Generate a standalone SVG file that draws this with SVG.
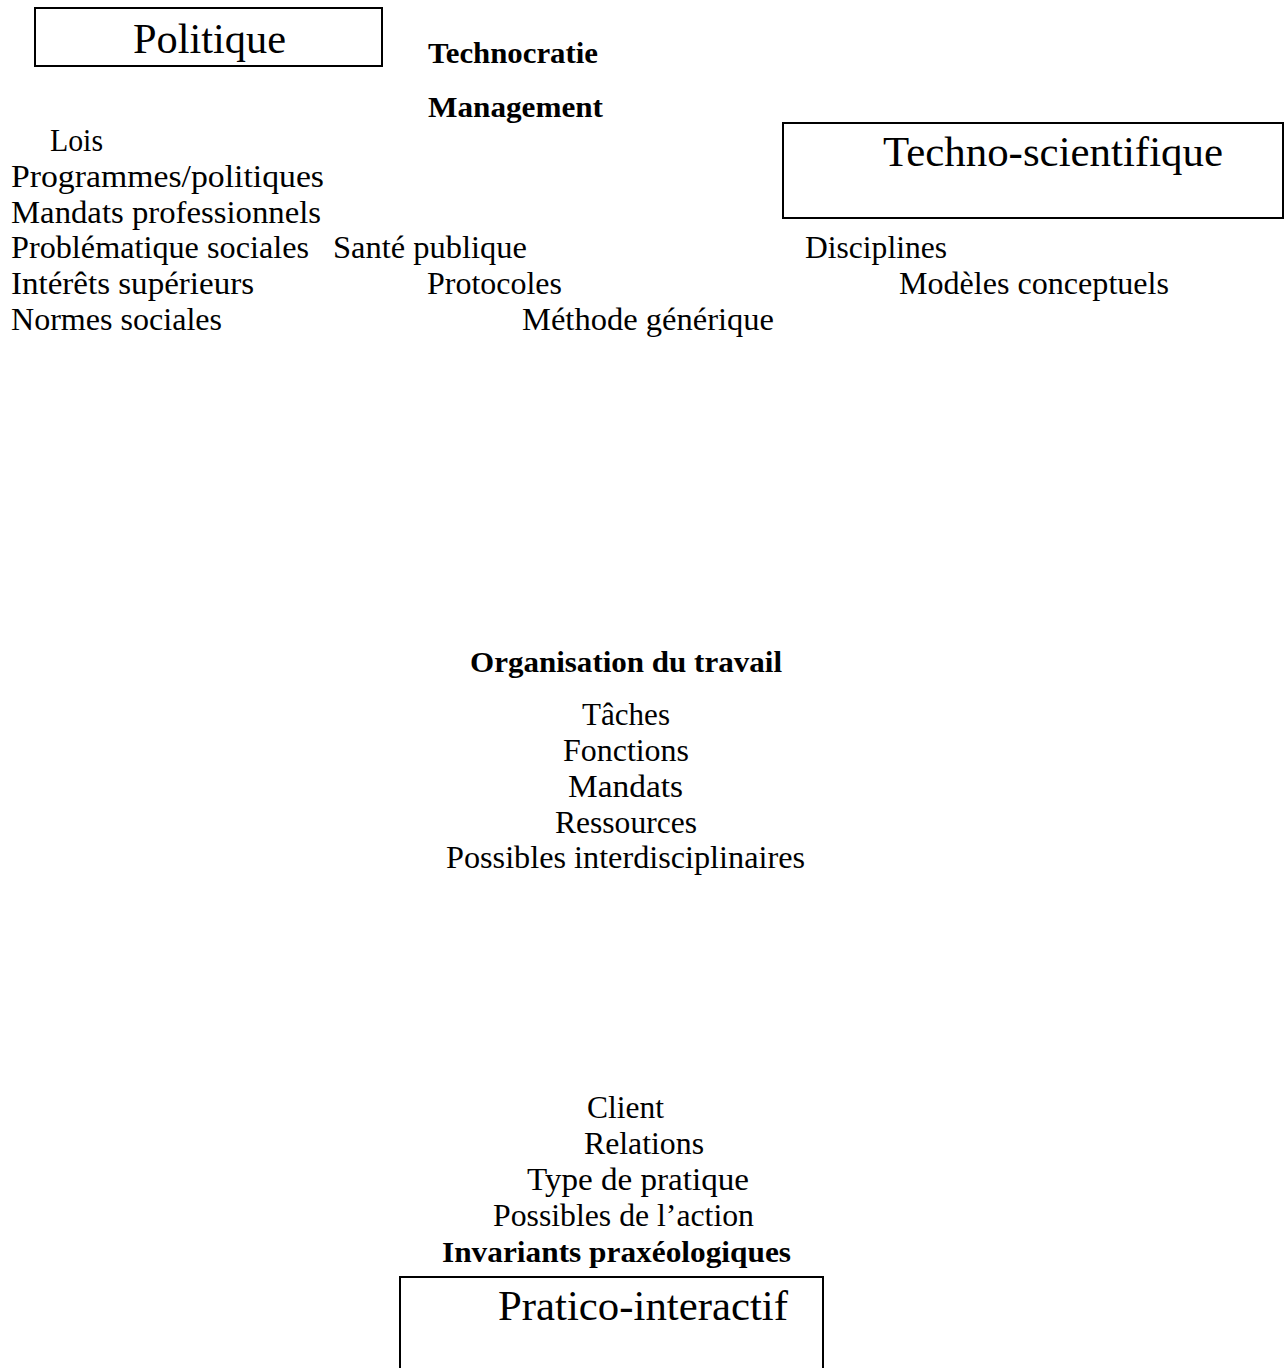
<svg xmlns="http://www.w3.org/2000/svg" width="1287" height="1368" viewBox="0 0 1287 1368">
<style>
.box{fill:none;stroke:#000;stroke-width:2}
.title{font-family:"Liberation Serif","Times New Roman",serif;font-size:42.5px;fill:#000}
.t{font-family:"Liberation Serif","Times New Roman",serif;font-size:31px;fill:#000}
.b{font-family:"Liberation Serif","Times New Roman",serif;font-size:30px;font-weight:bold;fill:#000}
</style>
<rect width="1287" height="1368" fill="#fff"/>
<g id="connectors"/>
<g id="node-politique">
<rect class="box" x="35" y="8" width="347" height="58"/>
<text class="title" x="133" y="53" textLength="153" lengthAdjust="spacingAndGlyphs">Politique</text>
</g>
<g id="node-technocratie">
<text class="b" x="428" y="63" textLength="170" lengthAdjust="spacingAndGlyphs">Technocratie</text>
<text class="b" x="428" y="117" textLength="175" lengthAdjust="spacingAndGlyphs">Management</text>
</g>
<g id="node-politique-items">
<text class="t" x="50" y="151" textLength="53" lengthAdjust="spacingAndGlyphs">Lois</text>
<text class="t" x="11" y="187" textLength="313" lengthAdjust="spacingAndGlyphs">Programmes/politiques</text>
<text class="t" x="11" y="223" textLength="310" lengthAdjust="spacingAndGlyphs">Mandats professionnels</text>
<text class="t" x="11" y="258" textLength="298" lengthAdjust="spacingAndGlyphs">Problématique sociales</text>
<text class="t" x="11" y="294" textLength="243" lengthAdjust="spacingAndGlyphs">Intérêts supérieurs</text>
<text class="t" x="11" y="330" textLength="211" lengthAdjust="spacingAndGlyphs">Normes sociales</text>
</g>
<g id="node-technique-items">
<text class="t" x="333" y="258" textLength="194" lengthAdjust="spacingAndGlyphs">Santé publique</text>
<text class="t" x="427" y="294" textLength="135" lengthAdjust="spacingAndGlyphs">Protocoles</text>
<text class="t" x="522" y="330" textLength="252" lengthAdjust="spacingAndGlyphs">Méthode générique</text>
</g>
<g id="node-techno-scientifique">
<rect class="box" x="783" y="123" width="500" height="95"/>
<text class="title" x="883" y="166" textLength="340" lengthAdjust="spacingAndGlyphs">Techno-scientifique</text>
</g>
<g id="node-techno-items">
<text class="t" x="805" y="258" textLength="142" lengthAdjust="spacingAndGlyphs">Disciplines</text>
<text class="t" x="899" y="294" textLength="270" lengthAdjust="spacingAndGlyphs">Modèles conceptuels</text>
</g>
<g id="node-organisation">
<text class="b" x="470" y="672" textLength="312" lengthAdjust="spacingAndGlyphs">Organisation du travail</text>
<text class="t" x="582" y="725" textLength="88" lengthAdjust="spacingAndGlyphs">Tâches</text>
<text class="t" x="563" y="761" textLength="126" lengthAdjust="spacingAndGlyphs">Fonctions</text>
<text class="t" x="568" y="797" textLength="115" lengthAdjust="spacingAndGlyphs">Mandats</text>
<text class="t" x="555" y="833" textLength="142" lengthAdjust="spacingAndGlyphs">Ressources</text>
<text class="t" x="446" y="868" textLength="359" lengthAdjust="spacingAndGlyphs">Possibles interdisciplinaires</text>
</g>
<g id="node-pratique-items">
<text class="t" x="587" y="1118" textLength="77" lengthAdjust="spacingAndGlyphs">Client</text>
<text class="t" x="584" y="1154" textLength="120" lengthAdjust="spacingAndGlyphs">Relations</text>
<text class="t" x="527" y="1190" textLength="222" lengthAdjust="spacingAndGlyphs">Type de pratique</text>
<text class="t" x="493" y="1226" textLength="261" lengthAdjust="spacingAndGlyphs">Possibles de l’action</text>
<text class="b" x="442" y="1262" textLength="349" lengthAdjust="spacingAndGlyphs">Invariants praxéologiques</text>
</g>
<g id="node-pratico-interactif">
<path class="box" d="M400,1372 V1277 H823 V1372"/>
<text class="title" x="498" y="1320" textLength="290" lengthAdjust="spacingAndGlyphs">Pratico-interactif</text>
</g>
</svg>
